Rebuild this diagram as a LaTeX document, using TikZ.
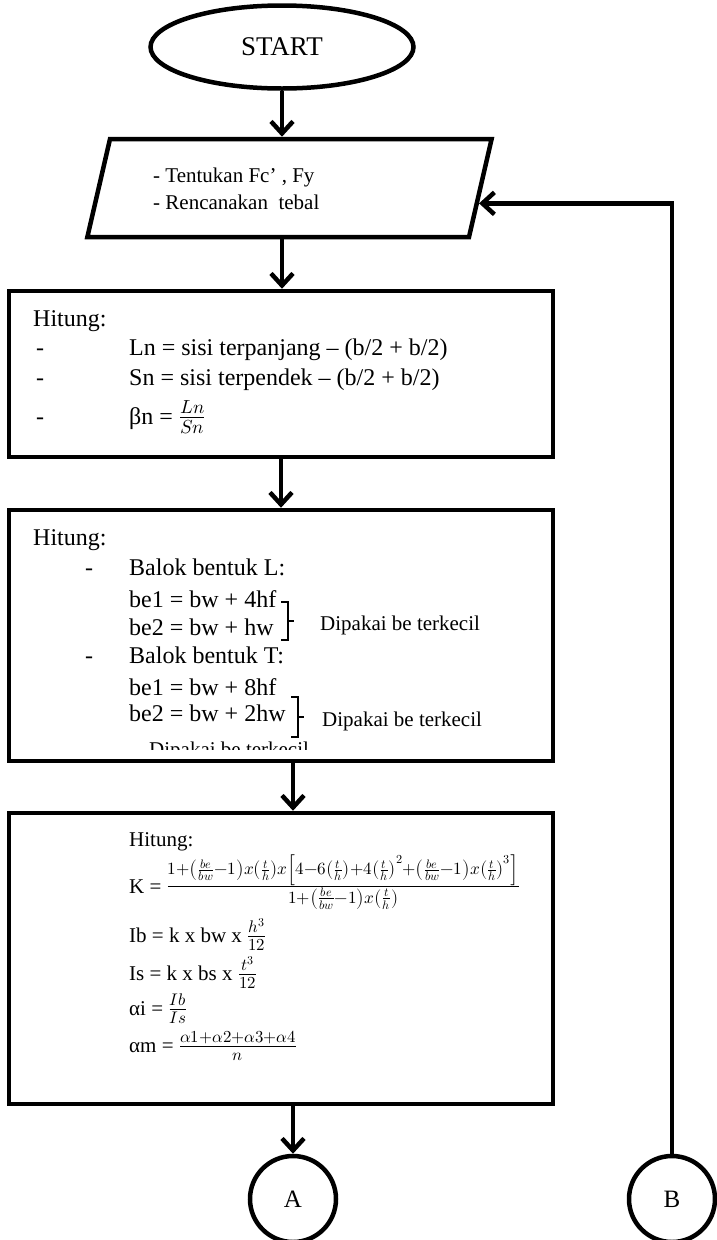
\documentclass[tikz,border=0pt]{standalone}
\usepackage{fontspec}
\usepackage{unicode-math}
\setmainfont{Liberation Serif}
\setmathfont{Latin Modern Math}
\usetikzlibrary{shapes.geometric,arrows.meta,calc}

\tikzstyle{flowarrow}=[line width=4.5pt, -{Straight Barb[length=12pt, width=22pt]}]
\tikzstyle{flowbox}=[rectangle, draw, line width=4.5pt, minimum width=544pt]
\tikzstyle{startnode}=[ellipse, draw, line width=4.5pt, minimum width=263pt, minimum height=83pt, font=\fontsize{27}{32}\selectfont]
\tikzstyle{connnode}=[circle, draw, line width=4.5pt, minimum size=86pt, font=\fontsize{25}{30}\selectfont]
\tikzstyle{iobox}=[trapezium, draw, line width=4.5pt, trapezium left angle=77, trapezium right angle=103, inner sep=0pt]
\tikzstyle{txt}=[anchor=base west, inner sep=0pt]
\tikzstyle{bigtxt}=[txt, font=\fontsize{24}{28}\selectfont]
\tikzstyle{midtxt}=[txt, font=\fontsize{21}{25}\selectfont]
\tikzstyle{bracketline}=[line width=2pt]
\newcommand{\dipakai}{Dipakai be terkecil}
\newcommand{\pakaibracket}[3]{
  \draw[bracketline] (#1,#2) -- ++(7,0) -- ++(0,#3) -- ++(-7,0);
  \draw[bracketline] ($(#1,#2)+(7,#3/2)$) -- ++(6,0);
}

\begin{document}
\begin{tikzpicture}[x=1pt, y=-1pt]
  \useasboundingbox (0,0) rectangle (717,1240);
  \node[startnode] (start) at (282,47) {START};
  \node[iobox] (input) at (289.5,188) {\rule{359pt}{0pt}\rule{0pt}{98pt}};
  \node[flowbox, minimum height=166pt] (hit1) at (281,374) {};
  \node[flowbox, minimum height=251pt] (hit2) at (281,635.5) {};
  \node[flowbox, minimum height=291pt] (hit3) at (281,958.5) {};
  \node[connnode] (A) at (293,1199) {A};
  \node[connnode] (B) at (672,1199) {B};
  \coordinate (inpin) at ($(input.bottom right corner)!0.35!(input.top right corner)$);

  \node[midtxt] (in1) at (153,182) {- Tentukan Fc’ , Fy};
  \node[midtxt] (in2) at (153,209) {- Rencanakan\ \ tebal};

  \node[bigtxt] (h1) at (33,326) {Hitung:};
  \node[bigtxt] (d1) at (36,355) {-};
  \node[bigtxt] (ln) at (129,355) {Ln = sisi terpanjang – (b/2 + b/2)};
  \node[bigtxt] (d2) at (36,385) {-};
  \node[bigtxt] (sn) at (129,385) {Sn = sisi terpendek – (b/2 + b/2)};
  \node[bigtxt] (d3) at (36,424) {-};
  \node[bigtxt] (bn) at (129,424) {βn = {\fontsize{27}{30}\selectfont$\frac{Ln}{Sn}$}};

  \node[bigtxt] (h2) at (33,545) {Hitung:};
  \node[bigtxt] (d4) at (85,575) {-};
  \node[bigtxt] (balokL) at (129,575) {Balok bentuk L:};
  \node[bigtxt] (beL1) at (129,607) {be1 = bw + 4hf};
  \node[bigtxt] (beL2) at (129,635) {be2 = bw + hw};
  \pakaibracket{281}{602}{38}
  \node[midtxt] (pakaiL) at (320,630) {\dipakai};
  \node[bigtxt] (d5) at (85,663) {-};
  \node[bigtxt] (balokT) at (129,663) {Balok bentuk T:};
  \node[bigtxt] (beT1) at (129,695) {be1 = bw + 8hf};
  \node[bigtxt] (beT2) at (129,721) {be2 = bw + 2hw};
  \pakaibracket{291}{697}{40}
  \node[midtxt] (pakaiT) at (322,726) {\dipakai};
  \begin{scope}
    \clip (20,730) rectangle (540,749);
    \node[midtxt] (pakaiX) at (149,756) {\dipakai};
  \end{scope}

  \node[midtxt] (h3) at (129,846) {Hitung:};
  \node[midtxt] (K) at (129,893) {K = {\fontsize{24.5}{28}\selectfont$\frac{1+\left(\frac{be}{bw}-1\right)x\left(\frac{t}{h}\right)x\left[4-6\left(\frac{t}{h}\right)+4\left(\frac{t}{h}\right)^2+\left(\frac{be}{bw}-1\right)x\left(\frac{t}{h}\right)^3\right]}{1+\left(\frac{be}{bw}-1\right)x\left(\frac{t}{h}\right)}$}};
  \node[midtxt] (Ib) at (129,942) {Ib = k x bw x {\fontsize{24}{28}\selectfont$\frac{h^3}{12}$}};
  \node[midtxt] (Is) at (129,980) {Is = k x bs x {\fontsize{24}{28}\selectfont$\frac{t^3}{12}$}};
  \node[midtxt] (ai) at (129,1015) {αi = {\fontsize{24}{28}\selectfont$\frac{Ib}{Is}$}};
  \node[midtxt] (am) at (129,1052) {αm = {\fontsize{24}{28}\selectfont$\frac{α1+α2+α3+α4}{n}$}};

  \draw[flowarrow] (start.south) -- (start.south |- input.north);
  \draw[flowarrow] (start.south |- input.south) -- (start.south |- hit1.north);
  \draw[flowarrow] (hit1.south) -- (hit2.north);
  \draw[flowarrow] (hit2.south -| A) -- (hit3.north -| A);
  \draw[flowarrow] (hit3.south -| A) -- (A.north);
  \draw[flowarrow] (B.north) |- (inpin);
\end{tikzpicture}
\end{document}
